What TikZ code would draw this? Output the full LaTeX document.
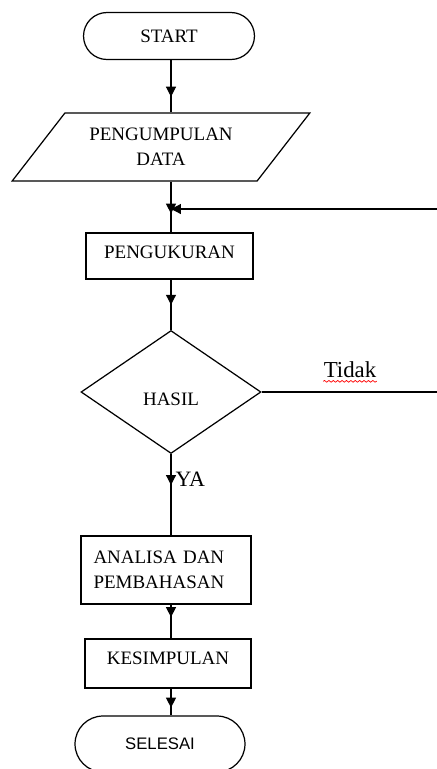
\documentclass[tikz,border=0pt]{standalone}
\usepackage{fontspec}
\setmainfont{Liberation Serif}
\newfontfamily\arialfont{Liberation Sans}
\usetikzlibrary{shapes.geometric,arrows.meta,decorations.markings,decorations.pathmorphing}

\tikzset{
  terminal/.style={draw, rectangle, rounded corners=#1},
  prosesbox/.style={draw, rectangle},
  midarrow/.style={postaction={decorate},
    decoration={markings, mark=at position #1 with {\arrow{Triangle[width=0.2cm,length=0.2cm]}}}}
}

\begin{document}
\begin{tikzpicture}[x=0.02cm, y=-0.02cm, line width=0.7pt,
    every node/.style={font=\fontsize{10.8}{14}\selectfont}]
                    \useasboundingbox (0,0) rectangle (437,769);
                    \coordinate (spine) at (171,0);
                    \coordinate (fbtop) at (437,209);
                    % kotak-kotak
                    \node[terminal=0.47cm, minimum width=3.42cm, minimum height=0.94cm] (start) at (169,36) {START};
                    \node[draw, trapezium, trapezium left angle=49, trapezium right angle=131, trapezium stretches=true,
                          minimum width=5.96cm, minimum height=1.36cm, align=center] (data) at (161,147) {PENGUMPULAN\\DATA};
                    \node[prosesbox, minimum width=3.34cm, minimum height=0.92cm, text depth=0.16cm] (ukur) at (169.5,256) {PENGUKURAN};
                    \node[draw, diamond, aspect=1.46, inner sep=0pt, minimum width=3.6cm, minimum height=2.46cm, text height=0.56cm] (hasil) at (171,392) {HASIL};
                    \node[prosesbox, minimum width=3.4cm, minimum height=1.36cm, text width=2.9cm, align=left] (analisa) at (166,570) {ANALISA DAN\\PEMBAHASAN};
                    \node[prosesbox, minimum width=3.32cm, minimum height=0.98cm, text depth=0.22cm] (simpul) at (168,663.5) {KESIMPULAN};
                    \node[terminal=0.56cm, minimum width=3.4cm, minimum height=1.12cm, font=\arialfont\fontsize{9.5}{12}\selectfont] (selesai) at (160,744) {SELESAI};
                    % garis alir
                    \draw[midarrow=0.7] (start.south -| spine) -- (data.north -| spine);
                    \draw[midarrow=0.63] (data.south -| spine) -- (ukur.north -| spine);
                    \draw[midarrow=0.5] (ukur.south -| spine) -- (hasil.north);
                    \draw[midarrow=0.38] (hasil.south) -- (analisa.north -| spine);
                    \draw[midarrow=0.37] (analisa.south -| spine) -- (simpul.north -| spine);
                    \draw[midarrow=0.71] (simpul.south -| spine) -- (selesai.north -| spine);
                    \draw (hasil.east) -- (hasil.east -| fbtop);
                    \draw[-{Triangle[width=0.2cm,length=0.2cm]}] (fbtop) -- (fbtop -| spine);
                    % label
                    \node[font=\fontsize{13}{15}\selectfont, inner sep=0pt] (tidak) at (350,370) {Tidak};
                    \draw[red, line width=0.4pt, decorate, decoration={snake, amplitude=0.5pt, segment length=2.5pt}]
                         ([yshift=-2pt]tidak.base west) -- ([yshift=-2pt]tidak.base east);
                    \node[font=\fontsize{12.5}{15}\selectfont, anchor=west, inner sep=0pt] (ya) at (175,479) {YA};
                \end{tikzpicture}
\end{document}
